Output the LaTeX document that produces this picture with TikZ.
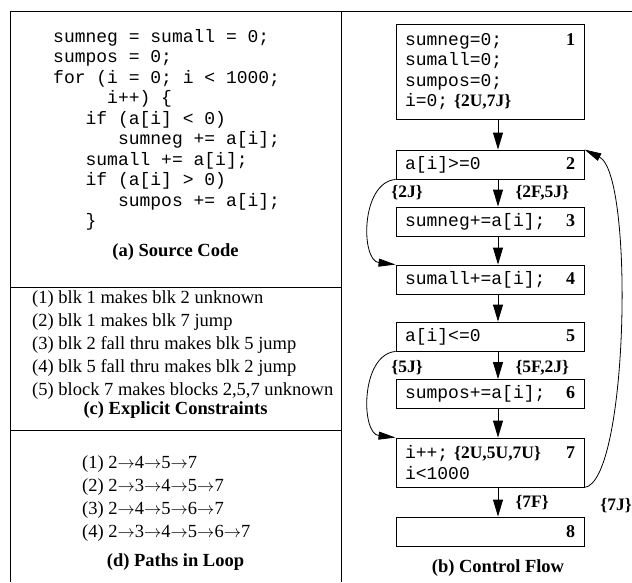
\documentclass[tikz,border=0pt]{standalone}
\usepackage{fontspec}
\setmainfont{Liberation Serif}
\setmonofont{Liberation Mono}
\usetikzlibrary{arrows.meta}

\newcommand{\codefont}{\fontsize{18}{20.5}\selectfont\ttfamily}
\newcommand{\listfont}{\fontsize{18.5}{23.2}\selectfont\rmfamily}
\newcommand{\capfont}{\fontsize{18.5}{22}\selectfont\rmfamily\bfseries}
\newcommand{\tagfont}{\fontsize{17.5}{20}\selectfont\rmfamily\bfseries}
\newcommand{\flowtag}[1]{{\tagfont\{#1\}}}
\newcommand{\pathto}{$\rightarrow$}

\begin{document}
\begin{tikzpicture}
   [x=1pt, y=-1pt,
    blk/.style={draw, line width=0.9pt, font=\codefont, text width=170pt,
                align=left, inner xsep=9pt, inner ysep=4pt, minimum height=29pt},
    flow/.style={line width=0.9pt, -{Triangle[length=17pt,width=10pt]}},
    jump/.style={line width=0.8pt, -{Triangle[length=17pt,width=8pt]}},
    lbl/.style={font=\tagfont},
    captxt/.style={font=\capfont}]
   \useasboundingbox (0,0) rectangle (632,582);

   % frame
   \draw[line width=0.9pt] (632,11) -- (10,11) -- (10,582);
   \draw[line width=0.9pt] (341,11) -- (341,582);
   \draw[line width=0.9pt] (10,287) -- (341,287);
   \draw[line width=0.9pt] (10,430) -- (341,430);

   % left column
   \node[font=\codefont, align=left, anchor=north west, inner sep=0pt] (src) at (53,29)
     {sumneg = sumall = 0;\\
      sumpos = 0;\\
      for (i = 0; i < 1000;\\
      \hspace*{3em}i++) \{\\
      \hspace*{1.8em}if (a[i] < 0)\\
      \hspace*{3.6em}sumneg += a[i];\\
      \hspace*{1.8em}sumall += a[i];\\
      \hspace*{1.8em}if (a[i] > 0)\\
      \hspace*{3.6em}sumpos += a[i];\\
      \hspace*{1.8em}\}};
   \node[captxt] (capa) at (175.5,252) {(a) Source Code};

   \node[font=\listfont, align=left, anchor=north west, inner sep=0pt] (cons) at (32,290)
     {(1) blk 1 makes blk 2 unknown\\
      (2) blk 1 makes blk 7 jump\\
      (3) blk 2 fall thru makes blk 5 jump\\
      (4) blk 5 fall thru makes blk 2 jump\\
      (5) block 7 makes blocks 2,5,7 unknown};
   \node[captxt] (capc) at (175.5,410) {(c) Explicit Constraints};

   \node[font=\listfont, align=left, anchor=north west, inner sep=0pt] (paths) at (82,455)
     {(1) 2\pathto4\pathto5\pathto7\\
      (2) 2\pathto3\pathto4\pathto5\pathto7\\
      (3) 2\pathto4\pathto5\pathto6\pathto7\\
      (4) 2\pathto3\pathto4\pathto5\pathto6\pathto7};
   \node[captxt] (capd) at (175.5,562) {(d) Paths in Loop};

   % control flow blocks
   \node[blk, minimum height=95pt] (b1) at (490,71.5)
     {sumneg=0;\hfill\textbf{\rmfamily 1}\\sumall=0;\\sumpos=0;\\i=0; \flowtag{2U,7J}};
   \node[blk] (b2) at (490,164.5) {a[i]>=0\hfill\textbf{\rmfamily 2}};
   \node[blk] (b3) at (490,221.5) {sumneg+=a[i];\hfill\textbf{\rmfamily 3}};
   \node[blk] (b4) at (490,279.5) {sumall+=a[i];\hfill\textbf{\rmfamily 4}};
   \node[blk] (b5) at (490,336.5) {a[i]<=0\hfill\textbf{\rmfamily 5}};
   \node[blk] (b6) at (490,394) {sumpos+=a[i];\hfill\textbf{\rmfamily 6}};
   \node[blk, minimum height=49pt] (b7) at (490,462.5)
     {i++; \flowtag{2U,5U,7U}\hfill\textbf{\rmfamily 7}\\i<1000};
   \node[blk] (b8) at (490,531.5) {\mbox{}\hfill\textbf{\rmfamily 8}};
   \node[captxt] (capb) at (498,568) {(b) Control Flow};

   \draw[flow] ([xshift=8pt]b1.south) -- ([xshift=8pt]b2.north);
   \draw[flow] ([xshift=8pt]b2.south) -- ([xshift=8pt]b3.north);
   \draw[flow] ([xshift=8pt]b3.south) -- ([xshift=8pt]b4.north);
   \draw[flow] ([xshift=8pt]b4.south) -- ([xshift=8pt]b5.north);
   \draw[flow] ([xshift=8pt]b5.south) -- ([xshift=8pt]b6.north);
   \draw[flow] ([xshift=8pt]b6.south) -- ([xshift=8pt]b7.north);
   \draw[flow] ([xshift=8pt]b7.south) -- ([xshift=8pt]b8.north);

   % jumps around blocks 3 and 6, back edge of the loop
   \draw[jump] (b2.south west) .. controls +(-35,3) and +(-35,-4) .. (b4.north west);
   \draw[jump] (b5.south west) .. controls +(-35,3) and +(-35,-4) .. (b7.north west);
   \draw[jump] (b7.south east) .. controls +(44,-5) and +(50,25) .. (b2.north east);

   \node[lbl] (t2j) at (407,193) {\{2J\}};
   \node[lbl, anchor=west] (t2f) at (512,193) {\{2F,5J\}};
   \node[lbl] (t5j) at (407,368) {\{5J\}};
   \node[lbl, anchor=west] (t5f) at (512,368) {\{5F,2J\}};
   \node[lbl, anchor=west] (t7f) at (512,503) {\{7F\}};
   \node[lbl] (t7j) at (616,506) {\{7J\}};
\end{tikzpicture}
\end{document}
